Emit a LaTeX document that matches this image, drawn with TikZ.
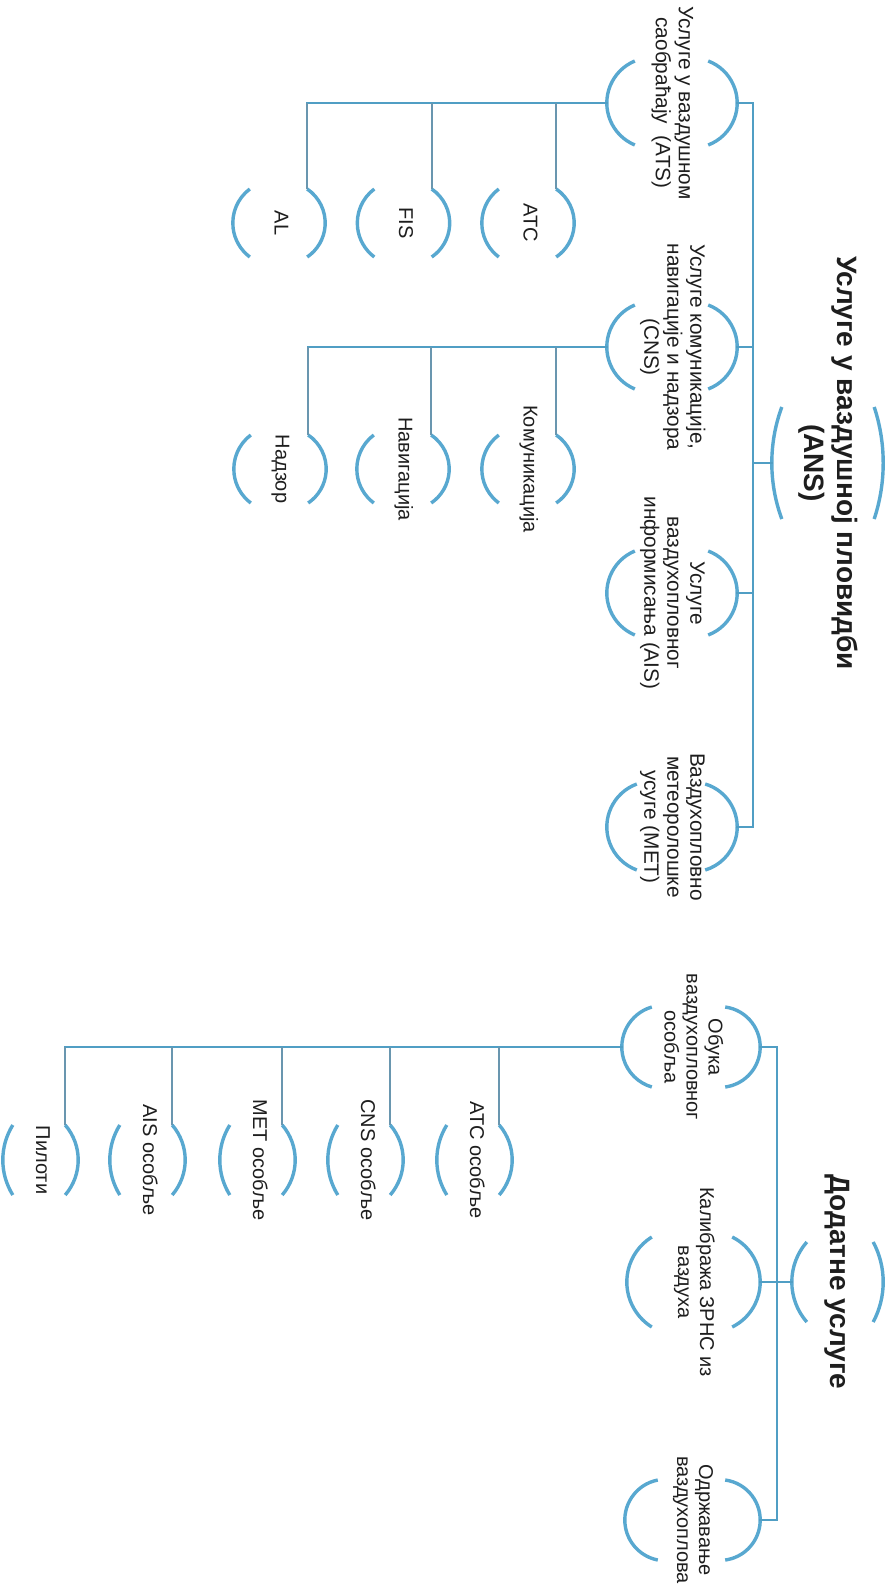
\documentclass[tikz,border=0pt]{standalone}
\usepackage{fontspec}
\setmainfont{Liberation Sans}
\usepackage{graphicx}
\usetikzlibrary{calc}
\definecolor{arcc}{RGB}{88,168,208}
\definecolor{linec}{RGB}{80,158,196}
\definecolor{subc}{RGB}{105,150,175}
\definecolor{txtc}{RGB}{30,30,30}
\newcommand{\rt}[1]{\rotatebox{-90}{\begin{tabular}{@{}c@{}}#1\end{tabular}}}
\newcommand{\brkts}[4]{%
  \pgfmathsetmacro{\rL}{(#2*#2+#3*#3)/(2*#3)}%
  \pgfmathsetmacro{\aL}{asin(#2/\rL)}%
  \pgfmathsetmacro{\rR}{(#2*#2+#4*#4)/(2*#4)}%
  \pgfmathsetmacro{\aR}{asin(#2/\rR)}%
  \draw[arcst] ($(#1.west)+(#3,#2)$) arc[start angle=180-\aL, end angle=180+\aL, radius=\rL pt];
  \draw[arcst] ($(#1.east)+(-#4,#2)$) arc[start angle=\aR, end angle=-\aR, radius=\rR pt];
  \coordinate (#1-top) at ($(#1.east)+(-#4,#2)$);
}
\begin{document}
\begin{tikzpicture}[x=1pt,y=1pt,
  txt/.style={font=\fontsize{20}{22}\selectfont, text=txtc, inner sep=0pt, minimum height=10pt},
  ttl/.style={font=\fontsize{28}{33}\selectfont\bfseries, text=txtc, inner sep=0pt, minimum height=10pt},
  topn/.style={txt, font=\fontsize{20.8}{23}\selectfont, minimum width=130pt},
  botn/.style={txt, minimum width=#1},
  kid/.style={txt, minimum width=92pt},
  kidb/.style={txt, minimum width=75pt},
  arcst/.style={draw=arcc, line width=3.4pt},
  conn/.style={draw=linec, line width=2.8pt, line cap=rect},
  sub/.style={draw=subc, line width=2pt}]
\useasboundingbox[fill=white] (0,0) rectangle (896,-1588);

% ANS section
\node[ttl, minimum width=111pt] (ans) at (827.5,-463) {\rt{Услуге у ваздушној пловидби\\(ANS)}};
\node[topn] (ats) at (672,-103) {\rt{Услуге у ваздушном\\саобраћају~ (ATS)}};
\node[topn] (cns) at (672,-347) {\rt{Услуге комуникације,\\навигације и надзора\\(CNS)}};
\node[topn] (ais) at (672,-593) {\rt{Услуге\\ваздухопловног\\информисања (AIS)}};
\node[topn] (met) at (672,-827) {\rt{Ваздухопловно\\метеоролошке\\усуге (MET)}};

\node[kid] (al) at (279,-223) {\rt{AL}};
\node[kid] (fis) at (403.5,-223) {\rt{FIS}};
\node[kid] (atc) at (528,-223) {\rt{ATC}};
\node[kid] (nad) at (280,-469) {\rt{Надзор}};
\node[kid] (nav) at (403,-469) {\rt{Навигација}};
\node[kid] (kom) at (528,-469) {\rt{Комуникација}};

\brkts{ans}{56}{10}{9}
\brkts{ats}{42}{28}{29}
\brkts{cns}{42}{28}{29}
\brkts{ais}{42}{28}{29}
\brkts{met}{43}{30}{32}
\brkts{al}{34}{17}{18}
\brkts{fis}{34}{17}{18}
\brkts{atc}{34}{17}{18}
\brkts{nad}{34}{17}{18}
\brkts{nav}{34}{17}{18}
\brkts{kom}{34}{17}{18}

\coordinate (tr1) at (753,0);
\draw[conn] (ats.east) -- (ats.east -| tr1) -- (met.east -| tr1) -- (met.east);
\draw[conn] (cns.east) -- (cns.east -| tr1);
\draw[conn] (ais.east) -- (ais.east -| tr1);
\draw[conn] (ans.west) -- (ans.west -| tr1);

\draw[conn] (ats.west) -- (ats.west -| al-top);
\draw[sub] (al-top) -- (al-top |- ats.west);
\draw[sub] (fis-top) -- (fis-top |- ats.west);
\draw[sub] (atc-top) -- (atc-top |- ats.west);

\draw[conn] (cns.west) -- (cns.west -| nad-top);
\draw[sub] (nad-top) -- (nad-top |- cns.west);
\draw[sub] (nav-top) -- (nav-top |- cns.west);
\draw[sub] (kom-top) -- (kom-top |- cns.west);

% Additional services section
\node[ttl, minimum width=91pt] (dod) at (837.5,-1282) {\rt{Додатне услуге}};
\node[botn=138pt] (obuka) at (691,-1047) {\rt{Обука\\ваздухопловног\\особља}};
\node[botn=133pt] (kal) at (693.5,-1282) {\rt{Калибража ЗРНС из\\ваздуха}};
\node[botn=135pt] (odr) at (692.5,-1520) {\rt{Одржавање\\ваздухоплова}};

\node[kidb] (pil) at (40.5,-1160) {\rt{Пилоти}};
\node[kidb] (aiso) at (147.5,-1160) {\rt{AIS особље}};
\node[kidb] (meto) at (257.5,-1160) {\rt{МЕТ особље}};
\node[kidb] (cnso) at (365.5,-1160) {\rt{CNS особље}};
\node[kidb] (atco) at (474.5,-1160) {\rt{АТС особље}};

\brkts{dod}{40}{15}{10}
\brkts{obuka}{40}{30}{35}
\brkts{kal}{45}{25}{28}
\brkts{odr}{40}{33}{35}
\brkts{pil}{35}{10}{13}
\brkts{aiso}{35}{10}{13}
\brkts{meto}{35}{10}{13}
\brkts{cnso}{35}{10}{13}
\brkts{atco}{35}{10}{13}

\coordinate (tr2) at (777,0);
\draw[conn] (obuka.east) -- (obuka.east -| tr2) -- (odr.east -| tr2) -- (odr.east);
\draw[conn] (kal.east) -- (dod.west);

\draw[conn] (obuka.west) -- (obuka.west -| pil-top);
\draw[sub] (pil-top) -- (pil-top |- obuka.west);
\draw[sub] (aiso-top) -- (aiso-top |- obuka.west);
\draw[sub] (meto-top) -- (meto-top |- obuka.west);
\draw[sub] (cnso-top) -- (cnso-top |- obuka.west);
\draw[sub] (atco-top) -- (atco-top |- obuka.west);
\end{tikzpicture}
\end{document}
